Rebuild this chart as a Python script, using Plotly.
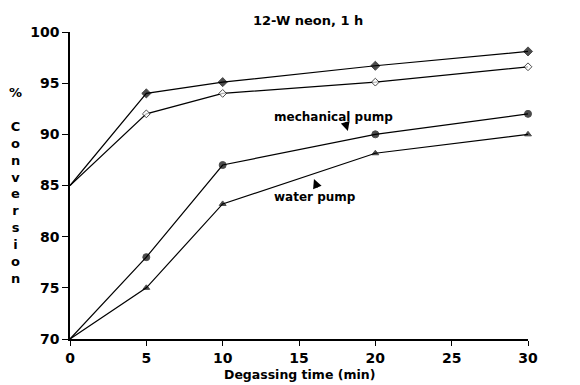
import plotly.graph_objects as go

# Degassing time (min)
time_min = [0, 5, 10, 20, 30]

# % conversion, 12-W neon lamp, 1 h irradiation
conv_70_mech = [85, 94.0, 95.1, 96.7, 98.1]    # 70 °C, mechanical pump
conv_70_water = [85, 92.0, 94.0, 95.1, 96.6]   # 70 °C, water pump
conv_25_mech = [70, 78.0, 87.0, 90.0, 92.0]    # 25 °C, mechanical pump
conv_25_water = [70, 75.0, 83.2, 88.15, 90.0]  # 25 °C, water pump

x_ticks = [0, 5, 10, 15, 20, 25, 30]
y_ticks = [70, 75, 80, 85, 90, 95, 100]

FONT = "DejaVu Sans, sans-serif"

fig = go.Figure()

def add_series(y, symbol, size, fill="black"):
    # the common starting point at t = 0 carries no marker
    sizes = [0] + [size] * (len(y) - 1)
    fig.add_trace(go.Scatter(
        x=time_min, y=y, mode="lines+markers",
        line=dict(color="black", width=1.2),
        marker=dict(symbol=symbol, size=sizes, color=fill,
                    line=dict(color="black", width=1)),
        cliponaxis=False, showlegend=False,
    ))

add_series(conv_70_mech, "diamond", 7)
add_series(conv_70_water, "diamond", 6, fill="white")
add_series(conv_25_mech, "circle", 7)
add_series(conv_25_water, "triangle-up", 6)

bold = dict(family=FONT, color="black", weight="bold")

annotations = [
    # series labels
    dict(x=17.23, y=91.69, text="mechanical pump", showarrow=False,
         font=dict(size=12, **bold)),
    dict(x=16.05, y=83.88, text="water pump", showarrow=False,
         font=dict(size=12, **bold)),
    dict(x=30.65, y=97.26, text="70°C", showarrow=False, xanchor="left",
         font=dict(size=14, **bold)),
    dict(x=30.65, y=91.4, text="25°C", showarrow=False, xanchor="left",
         font=dict(size=14, **bold)),
    # short pointer arrows
    dict(x=18.2, y=90.33, text="", showarrow=True, ax=-3, ay=-10,
         arrowhead=2, arrowsize=1.4, arrowwidth=1.3, arrowcolor="black"),
    dict(x=15.98, y=85.63, text="", showarrow=True, ax=4, ay=10,
         arrowhead=2, arrowsize=1.4, arrowwidth=1.3, arrowcolor="black"),
    # stacked y-axis title
    dict(xref="paper", yref="paper", x=-0.118, y=0.5, xanchor="center",
         yanchor="middle", showarrow=False,
         text="<br>".join(["%", ""] + list("Conversion")),
         font=dict(size=13, **bold)),
    # x-axis title
    dict(xref="paper", yref="paper", x=0.502, y=-0.117, xanchor="center",
         yanchor="middle", showarrow=False, text="Degassing time (min)",
         font=dict(size=12.5, **bold)),
]

fig.update_layout(
    width=580, height=385,
    margin=dict(l=70, r=52, t=32, b=46),
    paper_bgcolor="white", plot_bgcolor="white",
    title=dict(text="12-W neon, 1 h", x=0.52, xref="paper",
               y=1 - 20 / 385, yanchor="middle", xanchor="center",
               font=dict(size=13, **bold)),
    annotations=annotations,
    xaxis=dict(range=[0, 30], tickvals=x_ticks, showgrid=False,
               zeroline=False, showline=True, linecolor="black",
               linewidth=1.5, ticks="outside", ticklen=5,
               tickcolor="black", tickwidth=1.2,
               tickfont=dict(size=14, **bold)),
    yaxis=dict(range=[70, 100], tickvals=y_ticks, showgrid=False,
               zeroline=False, showline=True, linecolor="black",
               linewidth=1.5, ticks="outside", ticklen=6,
               tickcolor="black", tickwidth=1.2,
               tickfont=dict(size=14, **bold)),
)

fig.write_html("out.html")
